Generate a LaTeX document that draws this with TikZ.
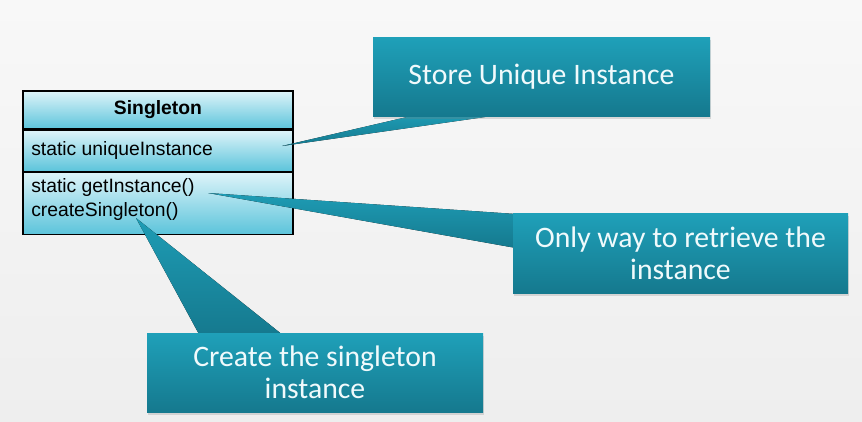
\documentclass[tikz,border=0pt]{standalone}
\usepackage{fontspec}
\setmainfont{Liberation Sans}
\newfontfamily\calloutfont{Carlito}
\usetikzlibrary{shadows}
\definecolor{tealtop}{RGB}{31,160,185}
\definecolor{tealbot}{RGB}{21,121,142}
\definecolor{cyantop}{RGB}{222,244,249}
\definecolor{cyanbot}{RGB}{92,196,219}
\definecolor{bgtop}{RGB}{248,248,248}
\definecolor{bgbot}{RGB}{238,238,238}
\definecolor{callouttext}{RGB}{240,250,252}
\tikzset{
  compartment/.style={rectangle, draw=black, line width=0.85pt, top color=cyantop, bottom color=cyanbot,
    minimum width=270*0.75pt, inner sep=0pt, font=\fontsize{14.5}{18}\selectfont, text=black},
  callout/.style={rectangle, top color=tealtop, bottom color=tealbot, inner sep=0pt,
    drop shadow={opacity=0.25, shadow xshift=1pt, shadow yshift=-2pt},
    font=\calloutfont\fontsize{22.3}{24}\selectfont, text=callouttext, align=center},
  pointer/.style={top color=tealtop!90!tealbot, bottom color=tealbot, draw=none},
}
\begin{document}
\begin{tikzpicture}[x=0.75pt,y=-0.75pt]
\fill[top color=bgtop, bottom color=bgbot] (0,0) rectangle (862,421);
\useasboundingbox (0,0) rectangle (862,421);

% class box
\node[compartment, minimum height=38*0.75pt] (title) at (158,110) {\bfseries Singleton};
\node[compartment, minimum height=41*0.75pt, anchor=north] (attr) at (title.south) {};
\node[compartment, minimum height=62*0.75pt, anchor=north] (meth) at (attr.south) {};
\node[font=\fontsize{14.5}{18}\selectfont, anchor=west, inner sep=0pt] (attrtext) at (31,150) {static uniqueInstance};
\node[font=\fontsize{14.5}{18}\selectfont, anchor=west, inner sep=0pt, align=left] (methtext) at (31,199) {static getInstance()\\createSingleton()};

% callout tips
\coordinate (tip1) at (282,146);
\coordinate (tip2) at (208,193);
\coordinate (tip3) at (136,218);

% callout boxes positions
\coordinate (c1pos) at (541.5,76.5);
\coordinate (c2pos) at (680.5,253);
\coordinate (c3pos) at (315,372.5);

% pointers
\fill[pointer] (tip1) -- (420,114) -- (506,114) -- cycle;
\fill[pointer] (tip2) -- (516,214) -- (516,248) -- cycle;
\fill[pointer] (tip3) -- (200,336) -- (284,336) -- cycle;

% callouts
\node[callout, minimum width=337*0.75pt, minimum height=79*0.75pt] (c1) at (c1pos) {Store Unique Instance};
\node[callout, minimum width=335*0.75pt, minimum height=80*0.75pt] (c2) at (c2pos) {Only way to retrieve the\\instance};
\node[callout, minimum width=336*0.75pt, minimum height=79*0.75pt] (c3) at (c3pos) {Create the singleton\\instance};
\end{tikzpicture}
\end{document}
